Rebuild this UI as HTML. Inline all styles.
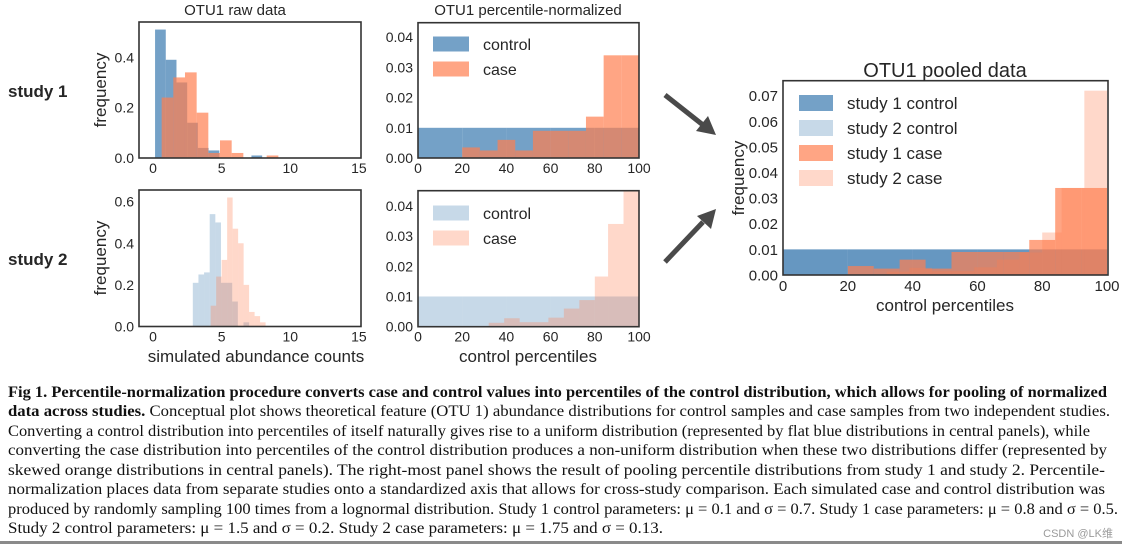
<!DOCTYPE html>
<html><head><meta charset="utf-8"><style>
html,body{margin:0;padding:0;background:#fff;}
svg{display:block;}
.t{font-family:"Liberation Sans",sans-serif;fill:#262626;}
.c{font-family:"Liberation Serif",serif;fill:#111;font-size:16px;}
</style></head><body>
<svg id="fig" width="1129" height="549" viewBox="0 0 1129 549">
<g id="plots"></g>
<text class="t" x="8" y="97" font-size="17" font-weight="bold">study 1</text>
<text class="t" x="8" y="265" font-size="17" font-weight="bold">study 2</text>
<text class="t" x="235" y="15" font-size="15" text-anchor="middle">OTU1 raw data</text>
<text class="t" x="528" y="15" font-size="15" text-anchor="middle">OTU1 percentile-normalized</text>
<text class="t" x="945" y="77" font-size="20" text-anchor="middle">OTU1 pooled data</text>
<text class="t" transform="translate(106,90) rotate(-90)" font-size="17" text-anchor="middle">frequency</text>
<text class="t" transform="translate(106,258) rotate(-90)" font-size="17" text-anchor="middle">frequency</text>
<text class="t" transform="translate(744,178) rotate(-90)" font-size="17" text-anchor="middle">frequency</text>
<text class="t" x="256" y="362" font-size="17" text-anchor="middle">simulated abundance counts</text>
<text class="t" x="528" y="362" font-size="17" text-anchor="middle">control percentiles</text>
<text class="t" x="945" y="311" font-size="17" text-anchor="middle">control percentiles</text>
<g>
<line x1="665" y1="95" x2="703" y2="125" stroke="#4a4a4a" stroke-width="5"/>
<polygon points="716,135 696,131 708,116" fill="#4a4a4a"/>
</g>
<g>
<line x1="665" y1="262" x2="703" y2="222" stroke="#4a4a4a" stroke-width="5"/>
<polygon points="716,209 711,229 697,216" fill="#4a4a4a"/>
</g>
<g>
<text class="c" x="8" y="397" textLength="1099" lengthAdjust="spacingAndGlyphs" font-weight="bold">Fig 1. Percentile-normalization procedure converts case and control values into percentiles of the control distribution, which allows for pooling of normalized</text>
<text class="c" x="8" y="416" textLength="1102" lengthAdjust="spacingAndGlyphs"><tspan font-weight="bold">data across studies.</tspan> Conceptual plot shows theoretical feature (OTU 1) abundance distributions for control samples and case samples from two independent studies.</text>
<text class="c" x="8" y="436" textLength="1082" lengthAdjust="spacingAndGlyphs">Converting a control distribution into percentiles of itself naturally gives rise to a uniform distribution (represented by flat blue distributions in central panels), while</text>
<text class="c" x="8" y="455" textLength="1099" lengthAdjust="spacingAndGlyphs">converting the case distribution into percentiles of the control distribution produces a non-uniform distribution when these two distributions differ (represented by</text>
<text class="c" x="8" y="475" textLength="1097" lengthAdjust="spacingAndGlyphs">skewed orange distributions in central panels). The right-most panel shows the result of pooling percentile distributions from study 1 and study 2. Percentile-</text>
<text class="c" x="8" y="494" textLength="1097" lengthAdjust="spacingAndGlyphs">normalization places data from separate studies onto a standardized axis that allows for cross-study comparison. Each simulated case and control distribution was</text>
<text class="c" x="8" y="514" textLength="1110" lengthAdjust="spacingAndGlyphs">produced by randomly sampling 100 times from a lognormal distribution. Study 1 control parameters: μ = 0.1 and σ = 0.7. Study 1 case parameters: μ = 0.8 and σ = 0.5.</text>
<text class="c" x="8" y="533" textLength="655" lengthAdjust="spacingAndGlyphs">Study 2 control parameters: μ = 1.5 and σ = 0.2. Study 2 case parameters: μ = 1.75 and σ = 0.13.</text>
</g>
<rect x="0" y="541" width="1122" height="3" fill="#8a8a8a"/>
<text x="1113" y="537" font-size="11" text-anchor="end" fill="#9a9a9a" font-family="Liberation Sans, Noto Sans CJK SC, sans-serif">CSDN @LK维</text>
</svg>
<script>
// raw data histograms (frequency per bin)
const s1ControlRaw = [0.51,0.39,0.30,0.14,0.04,0.03,0,0,0,0.01];
const s1CaseRaw = [0.24,0.32,0.34,0.18,0.02,0.07,0.02,0,0,0.01];
const s2ControlRaw = [0.21,0.25,0.26,0.54,0.50,0.21,0.21,0.12,0,0.02];
const s2CaseRaw = [0.10,0.24,0.32,0.62,0.47,0.40,0.20,0.07,0.05,0.02];
const s1ControlRawStart = 0.15, s1ControlRawWidth = 0.78;
const s1CaseRawStart = 0.63, s1CaseRawWidth = 0.85;
const s2ControlRawStart = 2.9, s2ControlRawWidth = 0.41;
const s2CaseRawStart = 4.2, s2CaseRawWidth = 0.40;
// percentile histograms
const s1ControlPct = [0.01,0.01,0.01,0.01,0.01];
const controlPctEdges = [0,20,40,60,80,100];
const s1CasePct = [0.0035,0.0025,0.006,0.0025,0.009,0.009,0.009,0.0137,0.034,0.034];
const s1CaseEdges = [20,28,36,44,52,60,68,76,84,92,100];
const s2ControlPct = [0.01,0.01,0.01,0.01,0.01];
const s2CasePct = [0.0013,0.0028,0.0015,0.0015,0.003,0.006,0.0088,0.0166,0.034,0.072];
const s2CaseEdges = [32,39,46,52,59,66,73,80,86,93,100];
// ticks
const rawXTicks = [0,5,10,15];
const rawYTicks1 = [0.0,0.2,0.4];
const rawYTicks2 = [0.0,0.2,0.4,0.6];
const pctXTicks = [0,20,40,60,80,100];
const pctYTicks = [0.00,0.01,0.02,0.03,0.04];
const poolYTicks = [0.00,0.01,0.02,0.03,0.04,0.05,0.06,0.07];

const NS='http://www.w3.org/2000/svg';
const root=document.getElementById('plots');
const BLUE='#4682b4', ORANGE='#ff7f50';
function el(tag,attrs,parent){const e=document.createElementNS(NS,tag);for(const k in attrs)e.setAttribute(k,attrs[k]);(parent||root).appendChild(e);return e;}
function lin(d0,d1,r0,r1){return v=>r0+(v-d0)/(d1-d0)*(r1-r0);}
function axes(name,box,xd,yd,xt,yt,xfmt,yfmt,fs){
  const g=el('g',{});
  
  
  const x=lin(xd[0],xd[1],box.x0,box.x1), y=lin(yd[0],yd[1],box.y0,box.y1);
  const clipId=name+'-clip';
  const cp=el('clipPath',{id:clipId},g); el('rect',{x:box.x0,y:box.y1,width:box.x1-box.x0,height:box.y0-box.y1},cp);
  const bars=el('g',{'clip-path':'url(#'+clipId+')'},g);
  xt.forEach(v=>{const t=el('text',{x:x(v),y:box.y0+fs+1,'text-anchor':'middle','font-size':fs,class:'t'},g);t.textContent=xfmt(v);
    
    });
  yt.forEach(v=>{const t=el('text',{x:box.x0-5,y:y(v)+fs*0.36,'text-anchor':'end','font-size':fs,class:'t'},g);t.textContent=yfmt(v);
    
    });
  const frame=el('rect',{x:box.x0,y:box.y1,width:box.x1-box.x0,height:box.y0-box.y1,fill:'none',stroke:'#333','stroke-width':1.6},g);
  
  
  return {x,y,bars,g};
}
function hist(ax,edges,vals,color,op,name){
  vals.forEach((v,i)=>{ if(!v) return;
    const r=el('rect',{x:ax.x(edges[i]),y:ax.y(v),width:ax.x(edges[i+1])-ax.x(edges[i]),height:ax.y(0)-ax.y(v),fill:color,'fill-opacity':op},ax.bars);
    
    
  });
}
function regEdges(start,w,n){const e=[];for(let i=0;i<=n;i++)e.push(start+i*w);return e;}
function legend(items,x,y0,dy,pw,ph,fs,name){
  const g=el('g',{});
  
  
  items.forEach((it,i)=>{const cy=y0+i*dy;
    const p=el('rect',{x:x,y:cy-ph/2,width:pw,height:ph,fill:it[1],'fill-opacity':it[2]},g);
    
    
    const t=el('text',{x:x+pw+14,y:cy+fs*0.36,'font-size':fs,class:'t'},g);t.textContent=it[0];
    
    
  });
}
const f1=v=>v.toFixed(1), f0=v=>String(v), f2=v=>v.toFixed(2);
// raw study1
let a=axes('raw-study1-chart',{x0:139,x1:361,y0:158,y1:22},[-1.02,15.15],[0,0.54],rawXTicks,rawYTicks1,f0,f1,14);
hist(a,regEdges(s1ControlRawStart,s1ControlRawWidth,s1ControlRaw.length),s1ControlRaw,BLUE,0.75,'study1-control-raw');
hist(a,regEdges(s1CaseRawStart,s1CaseRawWidth,s1CaseRaw.length),s1CaseRaw,ORANGE,0.7,'study1-case-raw');
// raw study2
a=axes('raw-study2-chart',{x0:139,x1:361,y0:326.5,y1:190},[-1.02,15.15],[0,0.656],rawXTicks,rawYTicks2,f0,f1,14);
hist(a,regEdges(s2ControlRawStart,s2ControlRawWidth,s2ControlRaw.length),s2ControlRaw,BLUE,0.3,'study2-control-raw');
hist(a,regEdges(s2CaseRawStart,s2CaseRawWidth,s2CaseRaw.length),s2CaseRaw,ORANGE,0.3,'study2-case-raw');
// pct study1
a=axes('percentile-study1-chart',{x0:418,x1:639,y0:158,y1:22.7},[0,100],[0,0.0448],pctXTicks,pctYTicks,f0,f2,14);
hist(a,controlPctEdges,s1ControlPct,BLUE,0.75,'study1-control-pct');
hist(a,s1CaseEdges,s1CasePct,ORANGE,0.7,'study1-case-pct');
legend([['control',BLUE,0.75],['case',ORANGE,0.7]],433,44,25,36,15,16,'legend-study1');
// pct study2
a=axes('percentile-study2-chart',{x0:418,x1:639,y0:326.7,y1:190.7},[0,100],[0,0.045],pctXTicks,pctYTicks,f0,f2,14);
hist(a,controlPctEdges,s2ControlPct,BLUE,0.3,'study2-control-pct');
hist(a,s2CaseEdges,s2CasePct,ORANGE,0.3,'study2-case-pct');
legend([['control',BLUE,0.3],['case',ORANGE,0.3]],433,213,25,36,15,16,'legend-study2');
// pooled
a=axes('pooled-chart',{x0:783,x1:1108,y0:275,y1:80.7},[0,100.3],[0,0.0759],pctXTicks,poolYTicks,f0,f2,15);
hist(a,controlPctEdges,s1ControlPct,BLUE,0.75,'pooled-study1-control');
hist(a,controlPctEdges,s2ControlPct,BLUE,0.3,'pooled-study2-control');
hist(a,s1CaseEdges,s1CasePct,ORANGE,0.7,'pooled-study1-case');
hist(a,s2CaseEdges,s2CasePct,ORANGE,0.3,'pooled-study2-case');
legend([['study 1 control',BLUE,0.75],['study 2 control',BLUE,0.3],['study 1 case',ORANGE,0.7],['study 2 case',ORANGE,0.3]],799,103,25,34,16,17,'legend-pooled');
</script>
</body></html>
